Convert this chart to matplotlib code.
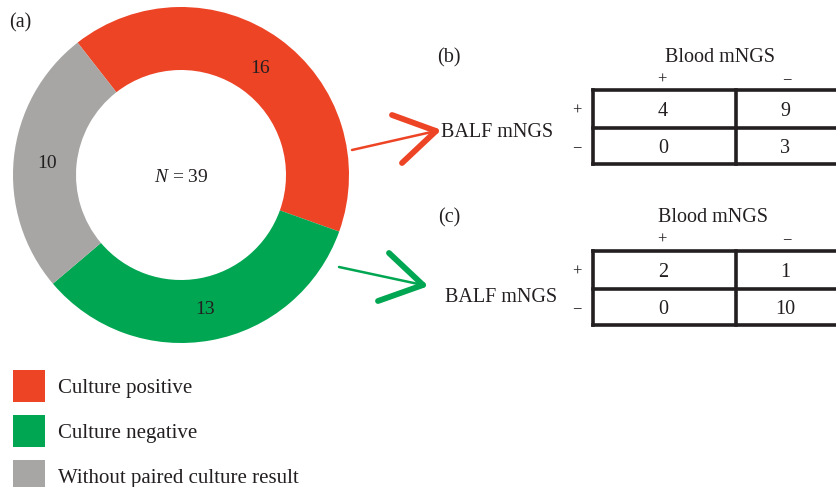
"""
Donut of culture status (a) with two 2x2 BALF vs blood mNGS tables (b, c).
Writes: out.png
"""
import matplotlib.pyplot as plt

# ---- data -------------------------------------------------------------
categories = ["Culture positive", "Culture negative", "Without paired culture result"]
counts = [16, 13, 10]
colours = ["#EE4426", "#00A651", "#A7A6A5"]

# 2x2 tables: rows = BALF mNGS (+, -), cols = Blood mNGS (+, -)
table_b = [[4, 9], [0, 3]]
table_c = [[2, 1], [0, 10]]
signs = ["+", "\u2212"]

TEXT = "#231F20"
W, H = 836, 487
FS = 14.5
VA = "center_baseline"

plt.rcParams["font.family"] = ["Liberation Serif", "DejaVu Serif"]
plt.rcParams["mathtext.fontset"] = "custom"
plt.rcParams["mathtext.rm"] = "Liberation Serif"
plt.rcParams["mathtext.it"] = "Liberation Serif:italic"

fig = plt.figure(figsize=(W / 100, H / 100), dpi=100)
ax = fig.add_axes([0, 0, 1, 1])


def py(y):
    # pixel row (from top) -> data y
    return H - y


# ---- (a) donut ---------------------------------------------------------
cx, cy, r = 181, py(175), 168
wedges, texts = ax.pie(
    counts, colors=colours, startangle=128, counterclock=False,
    center=(cx, cy), radius=r, labels=[str(c) for c in counts],
    labeldistance=0.80, wedgeprops=dict(width=r * 0.375, linewidth=0),
    textprops=dict(fontsize=14, color=TEXT, ha="center", va=VA),
    frame=True,
)
ax.set_xlim(0, W)
ax.set_ylim(0, H)
ax.set_aspect("equal")
ax.axis("off")
ax.text(cx, cy, "$N$ = 39", fontsize=14, color=TEXT, ha="center", va=VA)
ax.text(20, py(20), "(a)", fontsize=FS, color=TEXT, ha="center", va=VA)

# ---- legend ------------------------------------------------------------
for i, (lab, col) in enumerate(zip(categories, colours)):
    yc = py(386 + i * 45)
    ax.add_patch(plt.Rectangle((13, yc - 16), 32, 32, color=col, lw=0))
    ax.text(58, yc, lab, fontsize=15, color=TEXT, ha="left", va=VA)


# ---- arrows ------------------------------------------------------------
def chevron(start, tip, arm1, arm2, col):
    ax.plot([start[0], tip[0]], [py(start[1]), py(tip[1])], color=col,
            lw=1.8, solid_capstyle="round")
    for a in (arm1, arm2):
        ax.plot([a[0], tip[0]], [py(a[1]), py(tip[1])], color=col,
                lw=4.2, solid_capstyle="round")


chevron((352, 150), (436, 131), (392, 115), (402, 163), colours[0])
chevron((339, 267), (423, 285), (389, 253), (378, 301), colours[1])


# ---- (b), (c) tables -----------------------------------------------------
def table(label, values, top, mid, bottom, head_y, sign_y, balf_xy, blood_x):
    left, xmid, right = 593, 736, W + 5
    ax.text(449, py(head_y), label, fontsize=FS, color=TEXT, ha="center", va=VA)
    ax.text(blood_x, py(head_y), "Blood mNGS", fontsize=FS, color=TEXT,
            ha="center", va=VA)
    ax.text(662, py(sign_y), signs[0], fontsize=12, color=TEXT, ha="center", va=VA)
    ax.text(787, py(sign_y), signs[1], fontsize=12, color=TEXT, ha="center", va=VA)
    ax.text(balf_xy[0], py(balf_xy[1]), "BALF mNGS", fontsize=FS, color=TEXT,
            ha="center", va=VA)
    rows_y = [(top + mid) / 2, (mid + bottom) / 2]
    for j, ry in enumerate(rows_y):
        ax.text(577, py(ry), signs[j], fontsize=12, color=TEXT, ha="center", va=VA)
        for k, cxk in enumerate([663, 785]):
            ax.text(cxk, py(ry), str(values[j][k]), fontsize=FS, color=TEXT,
                    ha="center", va=VA)
    for yy in (top, mid, bottom):
        ax.plot([left, right], [py(yy), py(yy)], color=TEXT, lw=2.6,
                solid_capstyle="projecting")
    for xx in (left, xmid):
        ax.plot([xx, xx], [py(top), py(bottom)], color=TEXT, lw=2.6,
                solid_capstyle="projecting")


table("(b)", table_b, 90, 128, 164, 55, 78, (497, 130), 720)
table("(c)", table_c, 251, 289, 325, 215, 238, (501, 295), 713)

fig.savefig("out.png", dpi=100)
